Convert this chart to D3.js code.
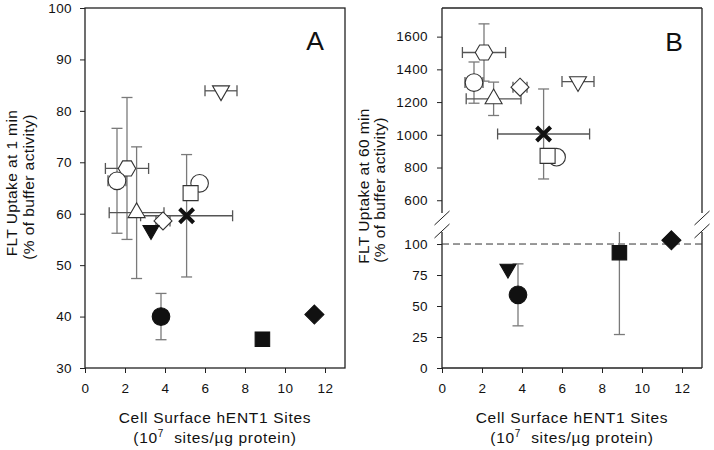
<!DOCTYPE html>
<html>
<head>
<meta charset="utf-8">
<script src="https://cdn.jsdelivr.net/npm/d3@7"></script>
<style>
  html, body { margin: 0; padding: 0; background: #fff; }
  svg { display: block; }
  text { font-family: "Liberation Sans", Arial, sans-serif; fill: #111; }
</style>
</head>
<body>
<div id="chart"></div>
<script>
// ---- Data ----
const cellLines   = ["L1","L2","L3","L4","L5","L6","L7","L8","L9","L10","L11","L12"];
const markerTypes = ["circle","hexagon","triangleUp","triangleDownFilled","circleFilled","diamond",
                     "cross","square","circle","triangleDown","squareFilled","diamondFilled"];
// Cell surface hENT1 sites (10^7 sites/µg protein) and SD
const sites    = [1.6, 2.1, 2.58, 3.3, 3.8, 3.9, 5.08, 5.28, 5.73, 6.8, 8.87, 11.47];
const sitesErr = [0.45, 1.08, 1.37, 0, 0, 0.35, 2.3, 0, 0, 0.8, 0, 0];
// Panel A: FLT uptake at 1 min (% of buffer activity)
const uptake1    = [66.4, 68.8, 60.2, 56.8, 40.0, 58.6, 59.6, 64.0, 65.9, 83.9, 35.6, 40.4];
const uptake1Err = [10.2, 13.8, 12.8, 0, 4.5, 0, 11.9, 0, 0, 0, 0, 0];
// Panel B: FLT uptake at 60 min (% of buffer activity)
const uptake60    = [1319, 1503, 1220, 80, 59, 1291, 1005, 871, 863, 1325, 93, 103];
const uptake60Err = [126, 175, 102, 0, 25, 0, 275, 0, 0, 0, 66, 0];
// Tick labels
const xTicks  = [0, 2, 4, 6, 8, 10, 12];
const yTicksA = [30, 40, 50, 60, 70, 80, 90, 100];
const yTicksBUpper = [600, 800, 1000, 1200, 1400, 1600];
const yTicksBLower = [0, 25, 50, 75, 100];
const bufferLevel = 100;

// ---- Drawing ----
const W = 714, H = 450;
const svg = d3.select("#chart").append("svg").attr("width", W).attr("height", H);
svg.append("rect").attr("width", W).attr("height", H).attr("fill", "#fff");

const FRAME = "#222", BAR_V = "#7a7a7a", BAR_H = "#555";
const CAP = 5.5;

function markerPath(type) {
  const p = d3.path();
  if (type.startsWith("circle")) { const r = 8.8; p.moveTo(r, 0); p.arc(0, 0, r, 0, 2 * Math.PI); p.closePath(); }
  else if (type === "hexagon") { const r = 8.7; for (let i = 0; i < 6; i++) { const a = i * Math.PI / 3; const x = r * Math.cos(a), y = r * Math.sin(a); i ? p.lineTo(x, y) : p.moveTo(x, y); } p.closePath(); }
  else if (type.startsWith("triangle")) {
    const s = type === "triangleDownFilled" ? 16 : 17, h = s * Math.sqrt(3) / 2, k = type === "triangleUp" ? 1 : -1;
    p.moveTo(0, -2 * h / 3 * k); p.lineTo(s / 2, h / 3 * k); p.lineTo(-s / 2, h / 3 * k); p.closePath();
  }
  else if (type.startsWith("diamond")) { const d = type === "diamondFilled" ? 9.5 : 9; p.moveTo(0, -d); p.lineTo(d, 0); p.lineTo(0, d); p.lineTo(-d, 0); p.closePath(); }
  else if (type.startsWith("square")) { const s = type === "squareFilled" ? 14.5 : 15; p.rect(-s / 2, -s / 2, s, s); }
  return p.toString();
}

function drawMarker(g, type, cx, cy) {
  if (type === "cross") {
    const a = 7;
    g.append("path").attr("d", `M${cx - a},${cy - a}L${cx + a},${cy + a}M${cx - a},${cy + a}L${cx + a},${cy - a}`)
      .attr("stroke", "#111").attr("stroke-width", 4).attr("fill", "none");
    return;
  }
  const filled = type.endsWith("Filled");
  g.append("path").attr("d", markerPath(type)).attr("transform", `translate(${cx},${cy})`)
    .attr("fill", filled ? "#111" : "#fff").attr("stroke", filled ? "#111" : "#333").attr("stroke-width", 1.1);
}

function vBar(g, x, y1, y2, cap1, cap2) {
  g.append("line").attr("x1", x).attr("x2", x).attr("y1", y1).attr("y2", y2).attr("stroke", BAR_V).attr("stroke-width", 1.3);
  if (cap1) g.append("line").attr("x1", x - CAP).attr("x2", x + CAP).attr("y1", y1).attr("y2", y1).attr("stroke", BAR_V).attr("stroke-width", 1.3);
  if (cap2) g.append("line").attr("x1", x - CAP).attr("x2", x + CAP).attr("y1", y2).attr("y2", y2).attr("stroke", BAR_V).attr("stroke-width", 1.3);
}
function hBar(g, y, x1, x2) {
  g.append("line").attr("x1", x1).attr("x2", x2).attr("y1", y).attr("y2", y).attr("stroke", BAR_H).attr("stroke-width", 1.3);
  [x1, x2].forEach(x => g.append("line").attr("x1", x).attr("x2", x).attr("y1", y - CAP).attr("y2", y + CAP).attr("stroke", BAR_H).attr("stroke-width", 1.3));
}

function styleAxis(g, fs) {
  g.select(".domain").remove();
  g.selectAll(".tick line").attr("stroke", FRAME).attr("stroke-width", 1);
  g.selectAll(".tick text").attr("font-size", fs).attr("fill", "#111").style("letter-spacing", "0.4px")
    .attr("font-family", "'Liberation Sans', Arial, sans-serif");
}

function xTitle(cx) {
  svg.append("text").attr("x", cx).attr("y", 422.5).attr("text-anchor", "middle")
    .attr("font-size", 15.5).style("letter-spacing", "0.7px").text("Cell Surface hENT1 Sites");
  const t2 = svg.append("text").attr("x", cx).attr("y", 442.5).attr("text-anchor", "middle")
    .attr("font-size", 15.5).style("letter-spacing", "0.7px");
  t2.append("tspan").text("(10");
  t2.append("tspan").attr("font-size", 10).attr("dy", -6).text("7");
  t2.append("tspan").attr("dy", 6).text("\u00a0 sites/\u00b5g protein)");
}
function yTitle(xb1, xb2, cy, line1) {
  svg.append("text").attr("transform", `translate(${xb1},${cy}) rotate(-90)`).attr("text-anchor", "middle")
    .attr("font-size", 15.5).style("letter-spacing", "0.4px").text(line1);
  svg.append("text").attr("transform", `translate(${xb2},${cy + 4}) rotate(-90)`).attr("text-anchor", "middle")
    .attr("font-size", 15.5).style("letter-spacing", "0.4px").text("(% of buffer activity)");
}

// ================= Panel A =================
{
  const x = d3.scaleLinear().domain([0, 13]).range([85, 345]);
  const y = d3.scaleLinear().domain([30, 100]).range([368, 8]);
  svg.append("rect").attr("x", 85).attr("y", 8).attr("width", 260).attr("height", 360)
    .attr("fill", "none").attr("stroke", FRAME).attr("stroke-width", 1.3);
  const gx = svg.append("g").attr("transform", "translate(0,368)")
    .call(d3.axisBottom(x).tickValues(xTicks).tickSize(5).tickPadding(10.5).tickFormat(d3.format("d")));
  styleAxis(gx, 13.5);
  const gy = svg.append("g").attr("transform", "translate(85,0)")
    .call(d3.axisLeft(y).tickValues(yTicksA).tickSize(5).tickPadding(8).tickFormat(d3.format("d")));
  styleAxis(gy, 13.5);

  const bars = svg.append("g"), marks = svg.append("g");
  sites.forEach((s, i) => {
    const cx = x(s), cy = y(uptake1[i]);
    if (uptake1Err[i] > 0) vBar(bars, cx, y(uptake1[i] + uptake1Err[i]), y(uptake1[i] - uptake1Err[i]), true, true);
    if (sitesErr[i] > 0) hBar(bars, cy, x(s - sitesErr[i]), x(s + sitesErr[i]));
  });
  const order = [8, 1, 0, 2, 5, 3, 4, 6, 7, 9, 10, 11];
  order.forEach(i => drawMarker(marks, markerTypes[i], x(sites[i]), y(uptake1[i])));

  svg.append("text").attr("x", 315).attr("y", 50).attr("text-anchor", "middle").attr("font-size", 26.5).text("A");
  xTitle(215);
  yTitle(17, 34, 183, "FLT Uptake at 1 min");
}

// ================= Panel B =================
{
  const L = 442, R = 702, T = 8, B = 368, brkTop = 213, brkBot = 232;
  const x = d3.scaleLinear().domain([0, 13]).range([L, R]);
  const yU = d3.scaleLinear().domain([522, 1775]).range([brkTop, T]);
  const yL = d3.scaleLinear().domain([0, 109.7]).range([B, brkBot]);
  const yv = v => v > 400 ? yU(v) : yL(v);

  const fr = svg.append("g").attr("stroke", FRAME).attr("stroke-width", 1.3).attr("fill", "none");
  fr.append("line").attr("x1", L).attr("x2", R).attr("y1", T).attr("y2", T);
  fr.append("line").attr("x1", L).attr("x2", R).attr("y1", B).attr("y2", B);
  [L, R].forEach(xx => {
    fr.append("line").attr("x1", xx).attr("x2", xx).attr("y1", T).attr("y2", brkTop);
    fr.append("line").attr("x1", xx).attr("x2", xx).attr("y1", brkBot).attr("y2", B);
    [218, 231].forEach(yy => fr.append("line").attr("x1", xx - 7.5).attr("x2", xx + 7.5).attr("y1", yy + 7).attr("y2", yy - 7).attr("stroke-width", 1));
  });

  svg.append("line").attr("x1", L).attr("x2", R).attr("y1", yL(bufferLevel)).attr("y2", yL(bufferLevel))
    .attr("stroke", "#333").attr("stroke-width", 1).attr("stroke-dasharray", "7,4");

  const gx = svg.append("g").attr("transform", `translate(0,${B})`)
    .call(d3.axisBottom(x).tickValues(xTicks).tickSize(5).tickPadding(10.5).tickFormat(d3.format("d")));
  styleAxis(gx, 13.5);
  const gyU = svg.append("g").attr("transform", `translate(${L},0)`)
    .call(d3.axisLeft(yU).tickValues(yTicksBUpper).tickSize(5).tickPadding(9).tickFormat(d3.format("d")));
  styleAxis(gyU, 13.5);
  const gyL = svg.append("g").attr("transform", `translate(${L},0)`)
    .call(d3.axisLeft(yL).tickValues(yTicksBLower).tickSize(5).tickPadding(9).tickFormat(d3.format("d")));
  styleAxis(gyL, 13.5);

  const bars = svg.append("g"), marks = svg.append("g");
  sites.forEach((s, i) => {
    const v = uptake60[i], e = uptake60Err[i], cx = x(s), cy = yv(v);
    if (e > 0) {
      const sc = v > 400 ? yU : yL, top = sc.domain()[1];
      const hi = Math.min(v + e, top);
      vBar(bars, cx, sc(hi), sc(v - e), v + e <= top, true);
    }
    if (sitesErr[i] > 0) hBar(bars, cy, x(s - sitesErr[i]), x(s + sitesErr[i]));
  });
  const order = [8, 1, 0, 2, 5, 3, 4, 6, 7, 9, 10, 11];
  order.forEach(i => drawMarker(marks, markerTypes[i], x(sites[i]), yv(uptake60[i])));

  svg.append("text").attr("x", 674).attr("y", 51).attr("text-anchor", "middle").attr("font-size", 26.5).text("B");
  xTitle(572);
  yTitle(369, 385, 186, "FLT Uptake at 60 min");
}
</script>
</body>
</html>
